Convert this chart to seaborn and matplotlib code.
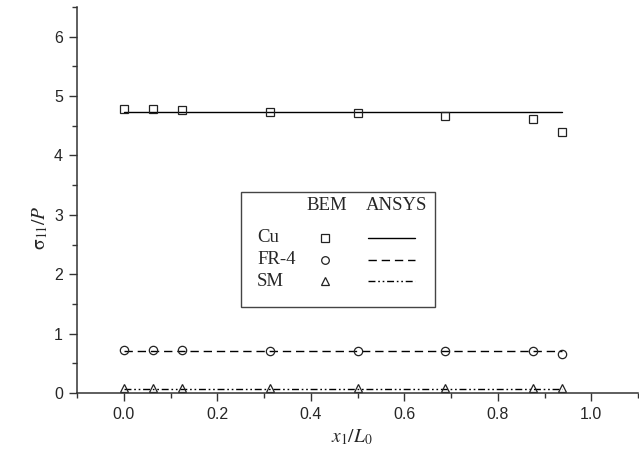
import seaborn as sns
import matplotlib.pyplot as plt
from matplotlib.patches import Rectangle
from matplotlib.lines import Line2D
from matplotlib.ticker import MultipleLocator

# positions along the strip
x_pos = [0.0, 0.0625, 0.125, 0.3125, 0.5, 0.6875, 0.875, 0.9375]

# BEM results (markers)
cu_bem = [4.78, 4.78, 4.76, 4.73, 4.71, 4.66, 4.62, 4.40]
fr4_bem = [0.72, 0.72, 0.72, 0.71, 0.71, 0.70, 0.70, 0.66]
sm_bem = [0.08, 0.08, 0.08, 0.08, 0.08, 0.08, 0.08, 0.08]

# ANSYS results (lines)
cu_ansys = [4.74, 4.74, 4.74, 4.74, 4.74, 4.74, 4.74, 4.74]
fr4_ansys = [0.71, 0.71, 0.71, 0.71, 0.71, 0.71, 0.71, 0.71]
sm_ansys = [0.07, 0.07, 0.07, 0.07, 0.07, 0.07, 0.07, 0.07]

materials = ["Cu", "FR-4", "SM"]
markers = ["s", "o", "^"]
dash_styles = [None, (6, 3.5), (5, 2, 1.2, 2, 1.2, 2)]

sns.set_style("ticks")
plt.rcParams['font.family'] = ['Liberation Sans', 'DejaVu Sans']
plt.rcParams['mathtext.fontset'] = 'stix'

W, H = 639, 458
fig = plt.figure(figsize=(W / 100, H / 100), dpi=100)
ax_l, ax_r, ax_t, ax_b = 77, 638, 7, 393
ax = fig.add_axes([ax_l / W, 1 - ax_b / H, (ax_r - ax_l) / W, (ax_b - ax_t) / H])

bem = [cu_bem, fr4_bem, sm_bem]
ansys = [cu_ansys, fr4_ansys, sm_ansys]
for i in range(3):
    sns.lineplot(x=x_pos, y=ansys[i], color='k', lw=1.0, ax=ax)
    if dash_styles[i] is not None:
        ax.lines[-1].set_dashes(dash_styles[i])
    sns.lineplot(x=x_pos, y=bem[i], marker=markers[i], linestyle='', ms=6,
                 mfc='none', mec='#222222', mew=0.9, ax=ax)

ax.set_xlim(-0.1, 1.1)
ax.set_ylim(0, 6.5)
ax.xaxis.set_major_locator(MultipleLocator(0.2))
ax.xaxis.set_minor_locator(MultipleLocator(0.1))
ax.yaxis.set_major_locator(MultipleLocator(1))
ax.yaxis.set_minor_locator(MultipleLocator(0.5))
ax.set_xticks([0.0, 0.2, 0.4, 0.6, 0.8, 1.0])
ax.set_xticklabels(["0.0", "0.2", "0.4", "0.6", "0.8", "1.0"])
ax.tick_params(which='major', direction='out', length=6, width=1.0,
               labelsize=11.5, color='#333333', pad=4)
ax.tick_params(which='minor', direction='out', length=3.5, width=1.0,
               color='#333333')
sns.despine(ax=ax)
for side in ['left', 'bottom']:
    ax.spines[side].set_color('#333333')
    ax.spines[side].set_linewidth(1.1)

fig.text(40 / W, 1 - 228 / H, r'$\mathrm{\sigma}_{11}/P$', rotation=90,
         ha='center', va='center', fontsize=14)
fig.text(352 / W, 1 - 437 / H, r'$x_{1}/L_{0}$', ha='center', va='center',
         fontsize=14)


# hand-built legend table
def fx(px):
    return (px - ax_l) / (ax_r - ax_l)


def fy(py):
    return (ax_b - py) / (ax_b - ax_t)


box = Rectangle((fx(241), fy(307)), fx(435) - fx(241), fy(192) - fy(307),
                transform=ax.transAxes, fill=False, ec='#444444', lw=1.0)
ax.add_patch(box)
serif = ['Liberation Serif', 'DejaVu Serif']
ax.text(fx(327), fy(206), "BEM", transform=ax.transAxes, ha='center',
        va='center', fontsize=13.5, family=serif)
ax.text(fx(397), fy(206), "ANSYS", transform=ax.transAxes, ha='center',
        va='center', fontsize=13.5, family=serif)
row_y = [238, 259.5, 281]
for i in range(3):
    ax.text(fx(257), fy(row_y[i]), materials[i], transform=ax.transAxes,
            ha='left', va='center', fontsize=13.5, family=serif)
    ax.add_line(Line2D([fx(325)], [fy(row_y[i])], marker=markers[i], ms=5.5,
                       mfc='none', mec='#222222', mew=0.9, linestyle='',
                       transform=ax.transAxes))
    ln = Line2D([fx(368), fx(415)], [fy(row_y[i])] * 2, color='k', lw=1.0,
                transform=ax.transAxes)
    if dash_styles[i] is not None:
        ln.set_dashes(dash_styles[i])
    ax.add_line(ln)

fig.savefig("out.png", dpi=100)
